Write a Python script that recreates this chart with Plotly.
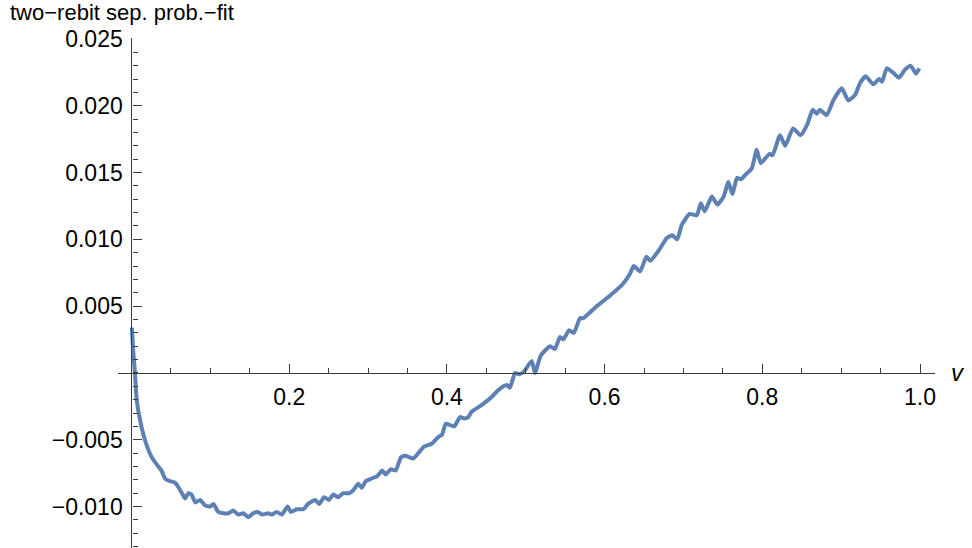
import plotly.graph_objects as go

# v values and the separability-probability residual
v = [0.0005, 0.002, 0.0044, 0.0066, 0.0108, 0.017, 0.0256, 0.034, 0.038, 0.0425,
     0.049, 0.055, 0.059, 0.064, 0.068, 0.072, 0.076, 0.081, 0.087, 0.093,
     0.0996, 0.104, 0.110, 0.1165, 0.123, 0.129, 0.1355, 0.142, 0.148, 0.1545,
     0.160, 0.166, 0.173, 0.178, 0.184, 0.1905, 0.198, 0.202, 0.2095, 0.218,
     0.224, 0.233, 0.238, 0.2445, 0.2505, 0.256, 0.262, 0.2686, 0.2758, 0.281,
     0.2877, 0.292, 0.297, 0.3046, 0.312, 0.318, 0.3224, 0.329, 0.335, 0.3418,
     0.3477, 0.352, 0.3574, 0.3637, 0.3714, 0.3807, 0.389, 0.394, 0.3985, 0.404,
     0.4094, 0.4166, 0.422, 0.427, 0.4314, 0.444, 0.4568, 0.465, 0.4716, 0.476,
     0.480, 0.4863, 0.4918, 0.4977, 0.5075, 0.5117, 0.519, 0.5308, 0.537, 0.5434,
     0.5476, 0.555, 0.561, 0.5688, 0.573, 0.590, 0.607, 0.6237, 0.632, 0.637,
     0.645, 0.653, 0.658, 0.669, 0.679, 0.686, 0.692, 0.698, 0.708, 0.717,
     0.722, 0.727, 0.736, 0.743, 0.751, 0.757, 0.762, 0.768, 0.773, 0.778,
     0.7866, 0.7929, 0.798, 0.809, 0.813, 0.8225, 0.829, 0.839, 0.8487, 0.857,
     0.8639, 0.869, 0.873, 0.8817, 0.890, 0.9007, 0.909, 0.9176, 0.924, 0.931,
     0.9408, 0.948, 0.952, 0.9578, 0.9654, 0.9734, 0.981, 0.988, 0.995, 0.999]

residual = [0.0034, 0.0018, 0.0000, -0.0020, -0.0035, -0.0050, -0.0063, -0.0070, -0.0073, -0.0079,
            -0.0081, -0.0082, -0.0085, -0.0090, -0.0094, -0.0090, -0.0091, -0.0097, -0.0095, -0.0099,
            -0.0100, -0.0098, -0.0104, -0.0105, -0.0105, -0.0103, -0.0106, -0.0105, -0.0108, -0.0105,
            -0.0104, -0.0106, -0.0105, -0.0106, -0.0104, -0.0106, -0.0100, -0.0104, -0.0102, -0.0102,
            -0.0098, -0.0095, -0.0098, -0.0093, -0.0095, -0.0091, -0.0093, -0.0090, -0.0090, -0.0088,
            -0.0083, -0.0086, -0.0081, -0.0079, -0.0077, -0.0073, -0.0076, -0.0072, -0.0073, -0.0063,
            -0.0062, -0.0063, -0.0064, -0.0060, -0.0055, -0.0053, -0.0048, -0.0046, -0.0038, -0.0039,
            -0.0040, -0.0033, -0.0034, -0.0033, -0.0029, -0.0024, -0.0018, -0.0013, -0.0010, -0.0009,
            -0.0011, 0.0000, -0.0001, 0.0001, 0.0009, 0.0000, 0.0013, 0.0020, 0.0018, 0.0027,
            0.0025, 0.0032, 0.0030, 0.0041, 0.0041, 0.0050, 0.0058, 0.0067, 0.0074, 0.0080,
            0.0076, 0.0087, 0.0084, 0.0092, 0.0101, 0.0103, 0.0100, 0.0111, 0.0119, 0.0118,
            0.0127, 0.0121, 0.0132, 0.0126, 0.0132, 0.0143, 0.0134, 0.0146, 0.0145, 0.0148,
            0.0153, 0.0167, 0.0157, 0.0164, 0.0163, 0.0178, 0.0170, 0.0183, 0.0178, 0.0186,
            0.0197, 0.0194, 0.0197, 0.0193, 0.0204, 0.0213, 0.0204, 0.0208, 0.0217, 0.0222,
            0.0216, 0.0220, 0.0218, 0.0228, 0.0225, 0.0221, 0.0227, 0.0230, 0.0224, 0.0228]

x_tickvals = [0.2, 0.4, 0.6, 0.8, 1.0]
x_ticktext = ["0.2", "0.4", "0.6", "0.8", "1.0"]
y_tickvals = [-0.010, -0.005, 0.005, 0.010, 0.015, 0.020, 0.025]
y_ticktext = ["\u22120.010", "\u22120.005", "0.005", "0.010", "0.015", "0.020", "0.025"]

x_range = [-0.0171, 1.019]
y_range = [-0.0131, 0.02507]

AXIS_COLOR = "#3a3a3a"
FONT = "Liberation Sans, Arial, sans-serif"

fig = go.Figure()
fig.add_trace(go.Scatter(
    x=v, y=residual, mode="lines",
    line=dict(color="#5E81B5", width=4, shape="spline", smoothing=0.5),
    hoverinfo="skip", showlegend=False,
))

# axes cross at the origin: place each axis line where the other's zero falls
x_axis_pos = (0 - y_range[0]) / (y_range[1] - y_range[0])
y_axis_pos = (0 - x_range[0]) / (x_range[1] - x_range[0])

fig.update_layout(
    width=972, height=548,
    margin=dict(l=118, r=37, t=38, b=0),
    paper_bgcolor="white", plot_bgcolor="white",
    font=dict(family=FONT, size=23, color="black"),
    xaxis=dict(
        range=x_range, anchor="free", position=x_axis_pos,
        showgrid=False, zeroline=False,
        showline=True, linecolor=AXIS_COLOR, linewidth=1.3,
        tickmode="array", tickvals=x_tickvals, ticktext=x_ticktext,
        ticks="inside", ticklen=9, tickwidth=1.3, tickcolor=AXIS_COLOR,
        ticklabelstandoff=3,
        minor=dict(dtick=0.05, tick0=0, ticks="inside", ticklen=5,
                   tickwidth=1.1, tickcolor=AXIS_COLOR, showgrid=False),
    ),
    yaxis=dict(
        range=y_range, anchor="free", position=y_axis_pos,
        showgrid=False, zeroline=False,
        showline=True, linecolor=AXIS_COLOR, linewidth=1.3,
        tickmode="array", tickvals=y_tickvals, ticktext=y_ticktext,
        ticks="inside", ticklen=9, tickwidth=1.3, tickcolor=AXIS_COLOR,
        ticklabelstandoff=4,
        minor=dict(dtick=0.001, tick0=0, ticks="inside", ticklen=5,
                   tickwidth=1.1, tickcolor=AXIS_COLOR, showgrid=False),
    ),
    annotations=[
        dict(text="two\u2212rebit sep. prob.\u2212fit", xref="paper", yref="paper",
             x=-0.1346, y=1.05, xanchor="left", yanchor="middle",
             showarrow=False, font=dict(family=FONT, size=22, color="black")),
        dict(text="<i>v</i>", xref="paper", yref="paper",
             x=1.017, y=x_axis_pos, xanchor="left", yanchor="middle",
             showarrow=False, font=dict(family=FONT, size=24, color="black")),
    ],
)

fig.write_html("out.html")
